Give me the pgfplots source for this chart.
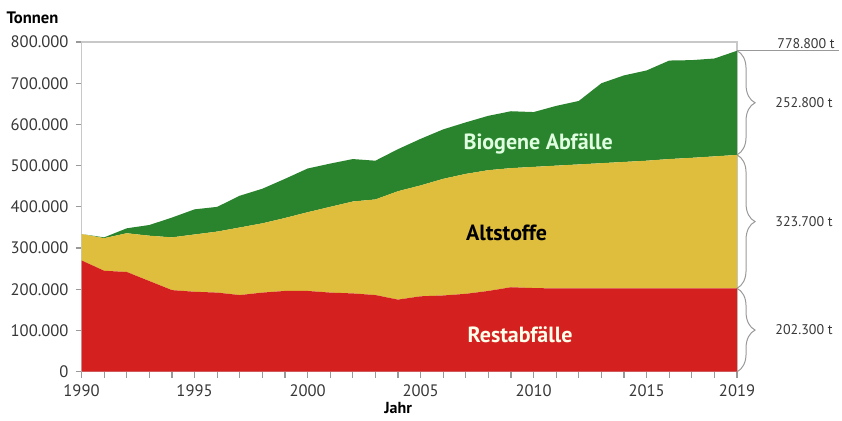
\documentclass[border=0pt]{standalone}
\usepackage{pgfplots}
\pgfplotsset{compat=1.18}
\usepackage{pgfplotstable}
\usepackage{fontspec}
\setmainfont{PT Sans}
\usetikzlibrary{decorations.pathreplacing}

\definecolor{rest}{RGB}{212,32,30}
\definecolor{alt}{RGB}{223,190,62}
\definecolor{bio}{RGB}{42,132,46}
\definecolor{txt}{RGB}{55,55,55}
\definecolor{frame}{RGB}{200,200,200}

% Abfallmengen in Tonnen (Restabfaelle, Altstoffe, biogene Abfaelle)
\pgfplotstableread{
year rest alt bio
1990 270000 64000 0
1991 245000 79000 2000
1992 242000 94000 12000
1993 220000 110000 26000
1994 198000 128000 48000
1995 194000 139000 61000
1996 192000 148000 60000
1997 186000 164000 77000
1998 192000 168000 84000
1999 196000 177000 95000
2000 196000 191000 106000
2001 192000 208000 105000
2002 190000 223000 103000
2003 186000 232000 94000
2004 175000 263000 102000
2005 183000 269000 113000
2006 185000 283000 120000
2007 189000 291000 125000
2008 196000 293000 132000
2009 205000 289000 138000
2010 203000 294000 133000
2011 202000 298000 145000
2012 202000 301000 154000
2013 202000 304000 194000
2014 202000 307000 210000
2015 202000 310000 219000
2016 202000 314000 239000
2017 202000 317000 237000
2018 202500 320000 237500
2019 202300 323700 252800
}\data

\tikzset{
  brc/.style={draw=gray!80, line width=0.5pt, decorate, decoration={brace, amplitude=9pt}},
  rlab/.style={font=\fontsize{7}{8}\selectfont, text=txt, anchor=west, inner sep=0pt, xshift=19pt},
  inlbl/.style={font=\bfseries\fontsize{11}{13}\selectfont},
}

\begin{document}
\begin{tikzpicture}
\path (-40.5pt,-23pt) rectangle (380.5pt,186pt);
\begin{axis}[
    at={(0,0)}, anchor=south west,
    scale only axis,
    width=328pt, height=165pt,
    xmin=1990, xmax=2019,
    ymin=0, ymax=800000,
    stack plots=y,
    clip=false,
    axis line style={frame, line width=0.6pt},
    tick style={gray!80, line width=0.6pt},
    tick align=outside,
    major tick length=3pt,
    minor tick length=3pt,
    xtick pos=bottom, ytick pos=left,
    xtick={1990,1995,2000,2005,2010,2015,2019},
    minor xtick={1990,...,2019},
    ytick={0,100000,...,800000},
    scaled y ticks=false,
    /pgf/number format/assume math mode=true,
    yticklabel style={/pgf/number format/.cd, fixed, 1000 sep={.}},
    xticklabel style={/pgf/number format/1000 sep={}},
    tick label style={font=\fontsize{8.3}{10}\selectfont, text=txt},
    xlabel={Jahr},
    xlabel style={font=\bfseries\fontsize{8}{10}\selectfont, at={(axis description cs:0.483,0)}, anchor=north, yshift=-12pt},
]
\addplot[fill=rest, draw=none] table[x=year, y=rest] {\data} \closedcycle;
\addplot[fill=alt, draw=none] table[x=year, y=alt] {\data} \closedcycle;
\addplot[fill=bio, draw=none] table[x=year, y=bio] {\data} \closedcycle;

\coordinate (pbio) at (axis cs:2010.2,553000);
\coordinate (palt) at (axis cs:2008.8,336000);
\coordinate (prest) at (axis cs:2009.4,90000);

\node[font=\bfseries\fontsize{8.3}{10}\selectfont, anchor=west, xshift=-41pt, yshift=12pt] at (rel axis cs:0,1) {Tonnen};

\draw[brc] (axis cs:2019,778800) -- (axis cs:2019,526300);
\draw[brc] (axis cs:2019,526000) -- (axis cs:2019,202600);
\draw[brc] (axis cs:2019,202300) -- (axis cs:2019,0);
\draw[gray!80, line width=0.5pt] (axis cs:2019,778800) -- ++(51pt,0pt);

\node[rlab, anchor=south west, inner sep=1pt] at (axis cs:2019,778800) {778.800 t};
\node[rlab] at (axis cs:2019,652400) {252.800 t};
\node[rlab] at (axis cs:2019,364150) {323.700 t};
\node[rlab] at (axis cs:2019,101150) {202.300 t};
\end{axis}
\node[inlbl, text=white!88!green] at (pbio) {Biogene Abfälle};
\node[inlbl, text=black] at (palt) {Altstoffe};
\node[inlbl, text=white!92!yellow] at (prest) {Restabfälle};
\end{tikzpicture}
\end{document}
